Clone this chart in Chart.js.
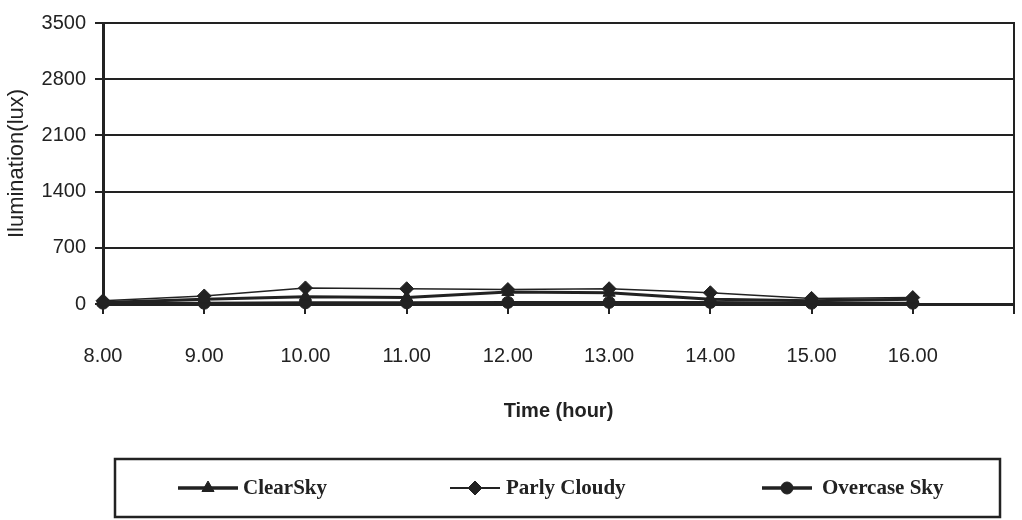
<!DOCTYPE html>
<html>
<head>
<meta charset="utf-8">
<script src="https://cdn.jsdelivr.net/npm/chart.js@4/dist/chart.umd.min.js"></script>
<style>
  html, body { margin: 0; padding: 0; background: #ffffff; }
  #wrap { width: 1022px; height: 520px; position: relative; }
</style>
</head>
<body>
<div id="wrap"><canvas id="c" width="1022" height="520"></canvas></div>
<script>
// Hourly readings, 8.00 to 16.00 (a trailing blank slot leaves room on the right)
const timeLabels = ['8.00', '9.00', '10.00', '11.00', '12.00', '13.00', '14.00', '15.00', '16.00', ''];
const clearSky = [20, 60, 90, 80, 150, 140, 60, 40, 60];
const partlyCloudy = [40, 100, 200, 190, 180, 190, 140, 70, 80];
const overcastSky = [10, 10, 15, 15, 20, 20, 20, 10, 10];
const seriesNames = ['ClearSky', 'Parly Cloudy', 'Overcase Sky'];
const yTicks = [0, 700, 1400, 2100, 2800, 3500];

const INK = '#222222';
const SANS = '"Liberation Sans", Arial, sans-serif';

// Boxed legend under the axes, with a line + marker sample per series
const boxedLegend = {
  id: 'boxedLegend',
  afterDraw(chart) {
    const ctx = chart.ctx;
    const box = { left: 115, top: 459, right: 1000, bottom: 517 };
    ctx.save();
    ctx.strokeStyle = INK;
    ctx.lineWidth = 2.5;
    ctx.strokeRect(box.left, box.top, box.right - box.left, box.bottom - box.top);
    const cy = (box.top + box.bottom) / 2;
    const lineFrom = [178, 450, 762];
    const lineLen = [60, 50, 50];
    const textFrom = [243, 506, 822];
    chart.data.datasets.forEach((ds, i) => {
      const x0 = lineFrom[i];
      ctx.strokeStyle = ds.borderColor;
      ctx.lineWidth = ds.borderWidth + 0.5;
      ctx.beginPath();
      ctx.moveTo(x0, cy);
      ctx.lineTo(x0 + lineLen[i], cy);
      ctx.stroke();
      ctx.fillStyle = ds.pointBackgroundColor;
      ctx.strokeStyle = ds.pointBorderColor;
      ctx.lineWidth = 1;
      Chart.helpers.drawPoint(ctx, {
        pointStyle: ds.pointStyle,
        radius: ds.pointRadius,
        borderWidth: 1,
        rotation: 0
      }, x0 + lineLen[i] / 2, cy);
      ctx.fillStyle = INK;
      ctx.font = 'bold 21px "Liberation Serif", "Times New Roman", serif';
      ctx.textBaseline = 'middle';
      ctx.textAlign = 'left';
      ctx.fillText(ds.label, textFrom[i], cy + 1);
    });
    ctx.restore();
  }
};

// Right-hand edge of the plot frame
const frameRight = {
  id: 'frameRight',
  beforeDatasetsDraw(chart) {
    const a = chart.chartArea;
    const ctx = chart.ctx;
    ctx.save();
    ctx.strokeStyle = INK;
    ctx.lineWidth = 2;
    ctx.beginPath();
    ctx.moveTo(a.right, a.top - 1);
    ctx.lineTo(a.right, a.bottom + 10);
    ctx.stroke();
    ctx.restore();
  }
};

function series(label, data, style, radius, width) {
  return {
    label: label,
    data: data,
    borderColor: INK,
    borderWidth: width,
    pointStyle: style,
    pointRadius: radius,
    pointHoverRadius: radius,
    pointBackgroundColor: INK,
    pointBorderColor: INK,
    pointBorderWidth: 1,
    tension: 0,
    fill: false,
    clip: false
  };
}

new Chart(document.getElementById('c'), {
  type: 'line',
  data: {
    labels: timeLabels,
    datasets: [
      series(seriesNames[0], clearSky, 'triangle', 7, 3),
      series(seriesNames[1], partlyCloudy, 'rectRot', 7, 1.5),
      series(seriesNames[2], overcastSky, 'circle', 6, 3)
    ]
  },
  options: {
    responsive: false,
    animation: false,
    layout: { padding: { left: 0, right: 7, top: 23, bottom: 95 } },
    plugins: {
      legend: { display: false },
      tooltip: { enabled: false }
    },
    scales: {
      x: {
        type: 'category',
        offset: false,
        afterFit(scale) {
          scale.height = 121;
          scale.paddingLeft = 0;
          scale.paddingRight = 0;
        },
        grid: {
          display: true,
          drawOnChartArea: false,
          drawTicks: true,
          tickLength: 10,
          lineWidth: 2,
          color: INK
        },
        border: { display: true, color: INK, width: 3 },
        ticks: {
          autoSkip: false,
          maxRotation: 0,
          padding: 30,
          color: INK,
          font: { family: SANS, size: 20 }
        },
        title: {
          display: true,
          text: 'Time (hour)',
          color: INK,
          padding: { top: 30, bottom: 2 },
          font: { family: SANS, size: 20, weight: 'bold' }
        }
      },
      y: {
        min: 0,
        max: 3500,
        afterBuildTicks(scale) {
          scale.ticks = yTicks.map(v => ({ value: v }));
        },
        afterFit(scale) {
          scale.width = 103;
        },
        grid: {
          display: true,
          drawOnChartArea: true,
          drawTicks: true,
          tickLength: 8,
          lineWidth: 2,
          color: INK
        },
        border: { display: true, color: INK, width: 3 },
        ticks: {
          padding: 9,
          color: INK,
          font: { family: SANS, size: 20 },
          callback: v => String(v)
        },
        title: {
          display: true,
          text: 'Ilumination(lux)',
          color: INK,
          padding: { top: 4, bottom: 4 },
          font: { family: SANS, size: 22 }
        }
      }
    }
  },
  plugins: [frameRight, boxedLegend]
});
</script>
</body>
</html>
